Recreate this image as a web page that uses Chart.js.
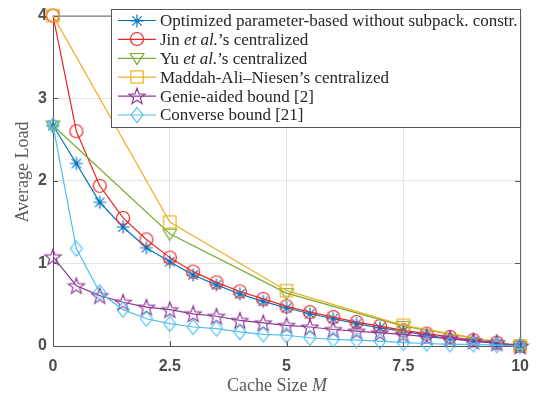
<!DOCTYPE html>
<html>
<head>
<meta charset="utf-8">
<script src="https://cdn.jsdelivr.net/npm/chart.js@4/dist/chart.umd.min.js"></script>
<style>
  html, body { margin: 0; padding: 0; background: #fff; }
  #chart { display: block; }
</style>
</head>
<body>
<canvas id="chart" width="540" height="403"></canvas>
<script>
// Cache sizes M used by the dense curves
const cacheSizes = [0, 0.5, 1, 1.5, 2, 2.5, 3, 3.5, 4, 4.5, 5, 5.5, 6, 6.5, 7, 7.5, 8, 8.5, 9, 9.5, 10];
// Cache sizes for the coarse centralized schemes
const coarseSizes = [0, 2.5, 5, 7.5, 10];

const optimizedLoad = [2.67, 2.21, 1.74, 1.44, 1.19, 1.02, 0.86, 0.74, 0.63, 0.54, 0.46, 0.39, 0.33, 0.27, 0.22, 0.18, 0.13, 0.09, 0.06, 0.03, 0];
const jinLoad       = [4, 2.6, 1.94, 1.55, 1.29, 1.07, 0.9, 0.77, 0.66, 0.57, 0.48, 0.41, 0.35, 0.29, 0.24, 0.19, 0.15, 0.11, 0.07, 0.04, 0];
const yuLoad        = [2.67, 1.36, 0.64, 0.24, 0];
const manLoad       = [4, 1.5, 0.67, 0.25, 0];
const genieLoad     = [1.08, 0.73, 0.61, 0.53, 0.47, 0.44, 0.39, 0.36, 0.31, 0.28, 0.25, 0.23, 0.2, 0.18, 0.16, 0.14, 0.11, 0.09, 0.06, 0.04, 0];
const converseLoad  = [2.67, 1.18, 0.65, 0.44, 0.33, 0.27, 0.23, 0.21, 0.17, 0.14, 0.13, 0.1, 0.08, 0.07, 0.06, 0.04, 0.03, 0.02, 0.02, 0.01, 0];

const xTicks = [0, 2.5, 5, 7.5, 10];
const yTicks = [0, 1, 2, 3, 4];

// legend text, split so "et al." can be italic
const legendLabels = [
  [["Optimized parameter-based without subpack. constr.", false]],
  [["Jin ", false], ["et al.", true], ["’s centralized", false]],
  [["Yu ", false], ["et al.", true], ["’s centralized", false]],
  [["Maddah-Ali–Niesen’s centralized", false]],
  [["Genie-aided bound [2]", false]],
  [["Converse bound [21]", false]],
];

const colors = ["#0072BD", "#EE2424", "#77AC30", "#EDB120", "#8E3A96", "#4DBEEE"];
const markers = ["asterisk", "circle", "triangleDown", "square", "pentagram", "diamond"];

// draw a matlab-ish marker on a small canvas, used as pointStyle
function makeMarker(kind, color) {
  const c = document.createElement("canvas");
  c.width = 22; c.height = 22;
  const g = c.getContext("2d");
  g.strokeStyle = color;
  g.lineWidth = 1.2;
  g.translate(11, 11);
  g.beginPath();
  if (kind === "asterisk") {
    const r = 6.5, d = r * 0.72;
    g.moveTo(0, -r); g.lineTo(0, r);
    g.moveTo(-r, 0); g.lineTo(r, 0);
    g.moveTo(-d, -d); g.lineTo(d, d);
    g.moveTo(-d, d); g.lineTo(d, -d);
  } else if (kind === "circle") {
    g.arc(0, 0, 6.5, 0, Math.PI * 2);
  } else if (kind === "triangleDown") {
    g.moveTo(-6.8, -4.5); g.lineTo(6.8, -4.5); g.lineTo(0, 6.5); g.closePath();
  } else if (kind === "square") {
    g.rect(-6.2, -6.2, 12.4, 12.4);
  } else if (kind === "pentagram") {
    for (let i = 0; i < 10; i++) {
      const r = i % 2 === 0 ? 8.5 : 3.5;
      const a = -Math.PI / 2 + i * Math.PI / 5;
      const px = r * Math.cos(a), py = r * Math.sin(a) + 0.8;
      if (i === 0) g.moveTo(px, py); else g.lineTo(px, py);
    }
    g.closePath();
  } else if (kind === "diamond") {
    g.moveTo(0, -7.5); g.lineTo(6, 0); g.lineTo(0, 7.5); g.lineTo(-6, 0); g.closePath();
  }
  g.stroke();
  return c;
}

const markerImgs = markers.map((m, i) => makeMarker(m, colors[i]));

function pts(xs, ys) {
  return xs.map((x, i) => ({ x: x, y: ys[i] }));
}

const seriesData = [
  pts(cacheSizes, optimizedLoad),
  pts(cacheSizes, jinLoad),
  pts(coarseSizes, yuLoad),
  pts(coarseSizes, manLoad),
  pts(cacheSizes, genieLoad),
  pts(cacheSizes, converseLoad),
];

const datasets = seriesData.map((d, i) => ({
  data: d,
  borderColor: colors[i],
  backgroundColor: colors[i],
  borderWidth: 1.2,
  pointStyle: markerImgs[i],
  pointRadius: 6,
  fill: false,
  tension: 0,
  clip: false,
  order: 6 - i,
}));

const axisColor = "#4d4d4d";
const tickFont = { family: "Liberation Sans", size: 16, weight: "bold" };

// frame, inward ticks, legend box and axis titles
const decorations = {
  id: "decorations",
  beforeDatasetsDraw(chart) {
    const { ctx, chartArea: a, scales } = chart;
    ctx.save();
    ctx.strokeStyle = "#555";
    ctx.lineWidth = 1;
    ctx.strokeRect(a.left + 0.5, a.top + 0.5, a.right - a.left, a.bottom - a.top);
    ctx.beginPath();
    xTicks.forEach(v => {
      const px = Math.round(scales.x.getPixelForValue(v)) + 0.5;
      ctx.moveTo(px, a.bottom); ctx.lineTo(px, a.bottom - 5);
      ctx.moveTo(px, a.top); ctx.lineTo(px, a.top + 5);
    });
    yTicks.forEach(v => {
      const py = Math.round(scales.y.getPixelForValue(v)) + 0.5;
      ctx.moveTo(a.left, py); ctx.lineTo(a.left + 5, py);
      ctx.moveTo(a.right, py); ctx.lineTo(a.right - 5, py);
    });
    ctx.stroke();
    ctx.restore();
  },
  afterDraw(chart) {
    const { ctx } = chart;
    ctx.save();
    // legend
    const lx = 111, ly = 9, lw = 409, lh = 118;
    ctx.fillStyle = "#fff";
    ctx.fillRect(lx, ly, lw, lh);
    ctx.strokeStyle = "#555";
    ctx.lineWidth = 1;
    ctx.strokeRect(lx + 0.5, ly + 0.5, lw, lh);
    ctx.textBaseline = "middle";
    legendLabels.forEach((parts, i) => {
      const cy = 20.5 + i * 18.9;
      ctx.strokeStyle = colors[i];
      ctx.lineWidth = 1.2;
      ctx.beginPath();
      ctx.moveTo(118, cy); ctx.lineTo(156, cy);
      ctx.stroke();
      ctx.drawImage(markerImgs[i], 137 - 11, Math.round(cy) - 11);
      let tx = 160;
      parts.forEach(([txt, it]) => {
        ctx.font = (it ? "italic " : "") + "17px 'Liberation Serif'";
        ctx.fillStyle = "#262626";
        ctx.fillText(txt, tx, cy + 1);
        tx += ctx.measureText(txt).width;
      });
    });
    // axis titles
    ctx.fillStyle = "#595959";
    ctx.textBaseline = "alphabetic";
    const t1 = "Cache Size ";
    ctx.font = "18px 'Liberation Serif'";
    const w1 = ctx.measureText(t1).width;
    ctx.font = "italic 18px 'Liberation Serif'";
    const w2 = ctx.measureText("M").width;
    const sx = 277 - (w1 + w2) / 2;
    ctx.font = "18px 'Liberation Serif'";
    ctx.fillText(t1, sx, 391);
    ctx.font = "italic 18px 'Liberation Serif'";
    ctx.fillText("M", sx + w1, 391);

    ctx.translate(28, 172);
    ctx.rotate(-Math.PI / 2);
    ctx.textAlign = "center";
    ctx.font = "18px 'Liberation Serif'";
    ctx.fillText("Average Load", 0, 0);
    ctx.restore();
  },
};

new Chart(document.getElementById("chart"), {
  type: "line",
  data: { datasets },
  options: {
    responsive: false,
    animation: false,
    devicePixelRatio: 1,
    layout: { padding: { top: 10, right: 19, left: 0, bottom: 0 } },
    plugins: { legend: { display: false }, tooltip: { enabled: false } },
    scales: {
      x: {
        type: "linear",
        min: 0,
        max: 10,
        afterBuildTicks: s => { s.ticks = xTicks.map(v => ({ value: v })); },
        afterFit: s => { s.height = 57; },
        ticks: { font: tickFont, color: axisColor, padding: 11, maxRotation: 0, callback: v => String(v) },
        grid: {
          color: c => (c.tick && (c.tick.value === 0 || c.tick.value === 10)) ? "rgba(0,0,0,0)" : "#e3e3e3",
          drawTicks: false,
        },
        border: { display: false },
      },
      y: {
        type: "linear",
        min: 0,
        max: 4,
        afterBuildTicks: s => { s.ticks = yTicks.map(v => ({ value: v })); },
        afterFit: s => { s.width = 53; },
        ticks: { font: tickFont, color: axisColor, padding: 6, callback: v => String(v) },
        grid: {
          color: c => (c.tick && (c.tick.value === 0 || c.tick.value === 4)) ? "rgba(0,0,0,0)" : "#e3e3e3",
          drawTicks: false,
        },
        border: { display: false },
      },
    },
  },
  plugins: [decorations],
});
</script>
</body>
</html>
